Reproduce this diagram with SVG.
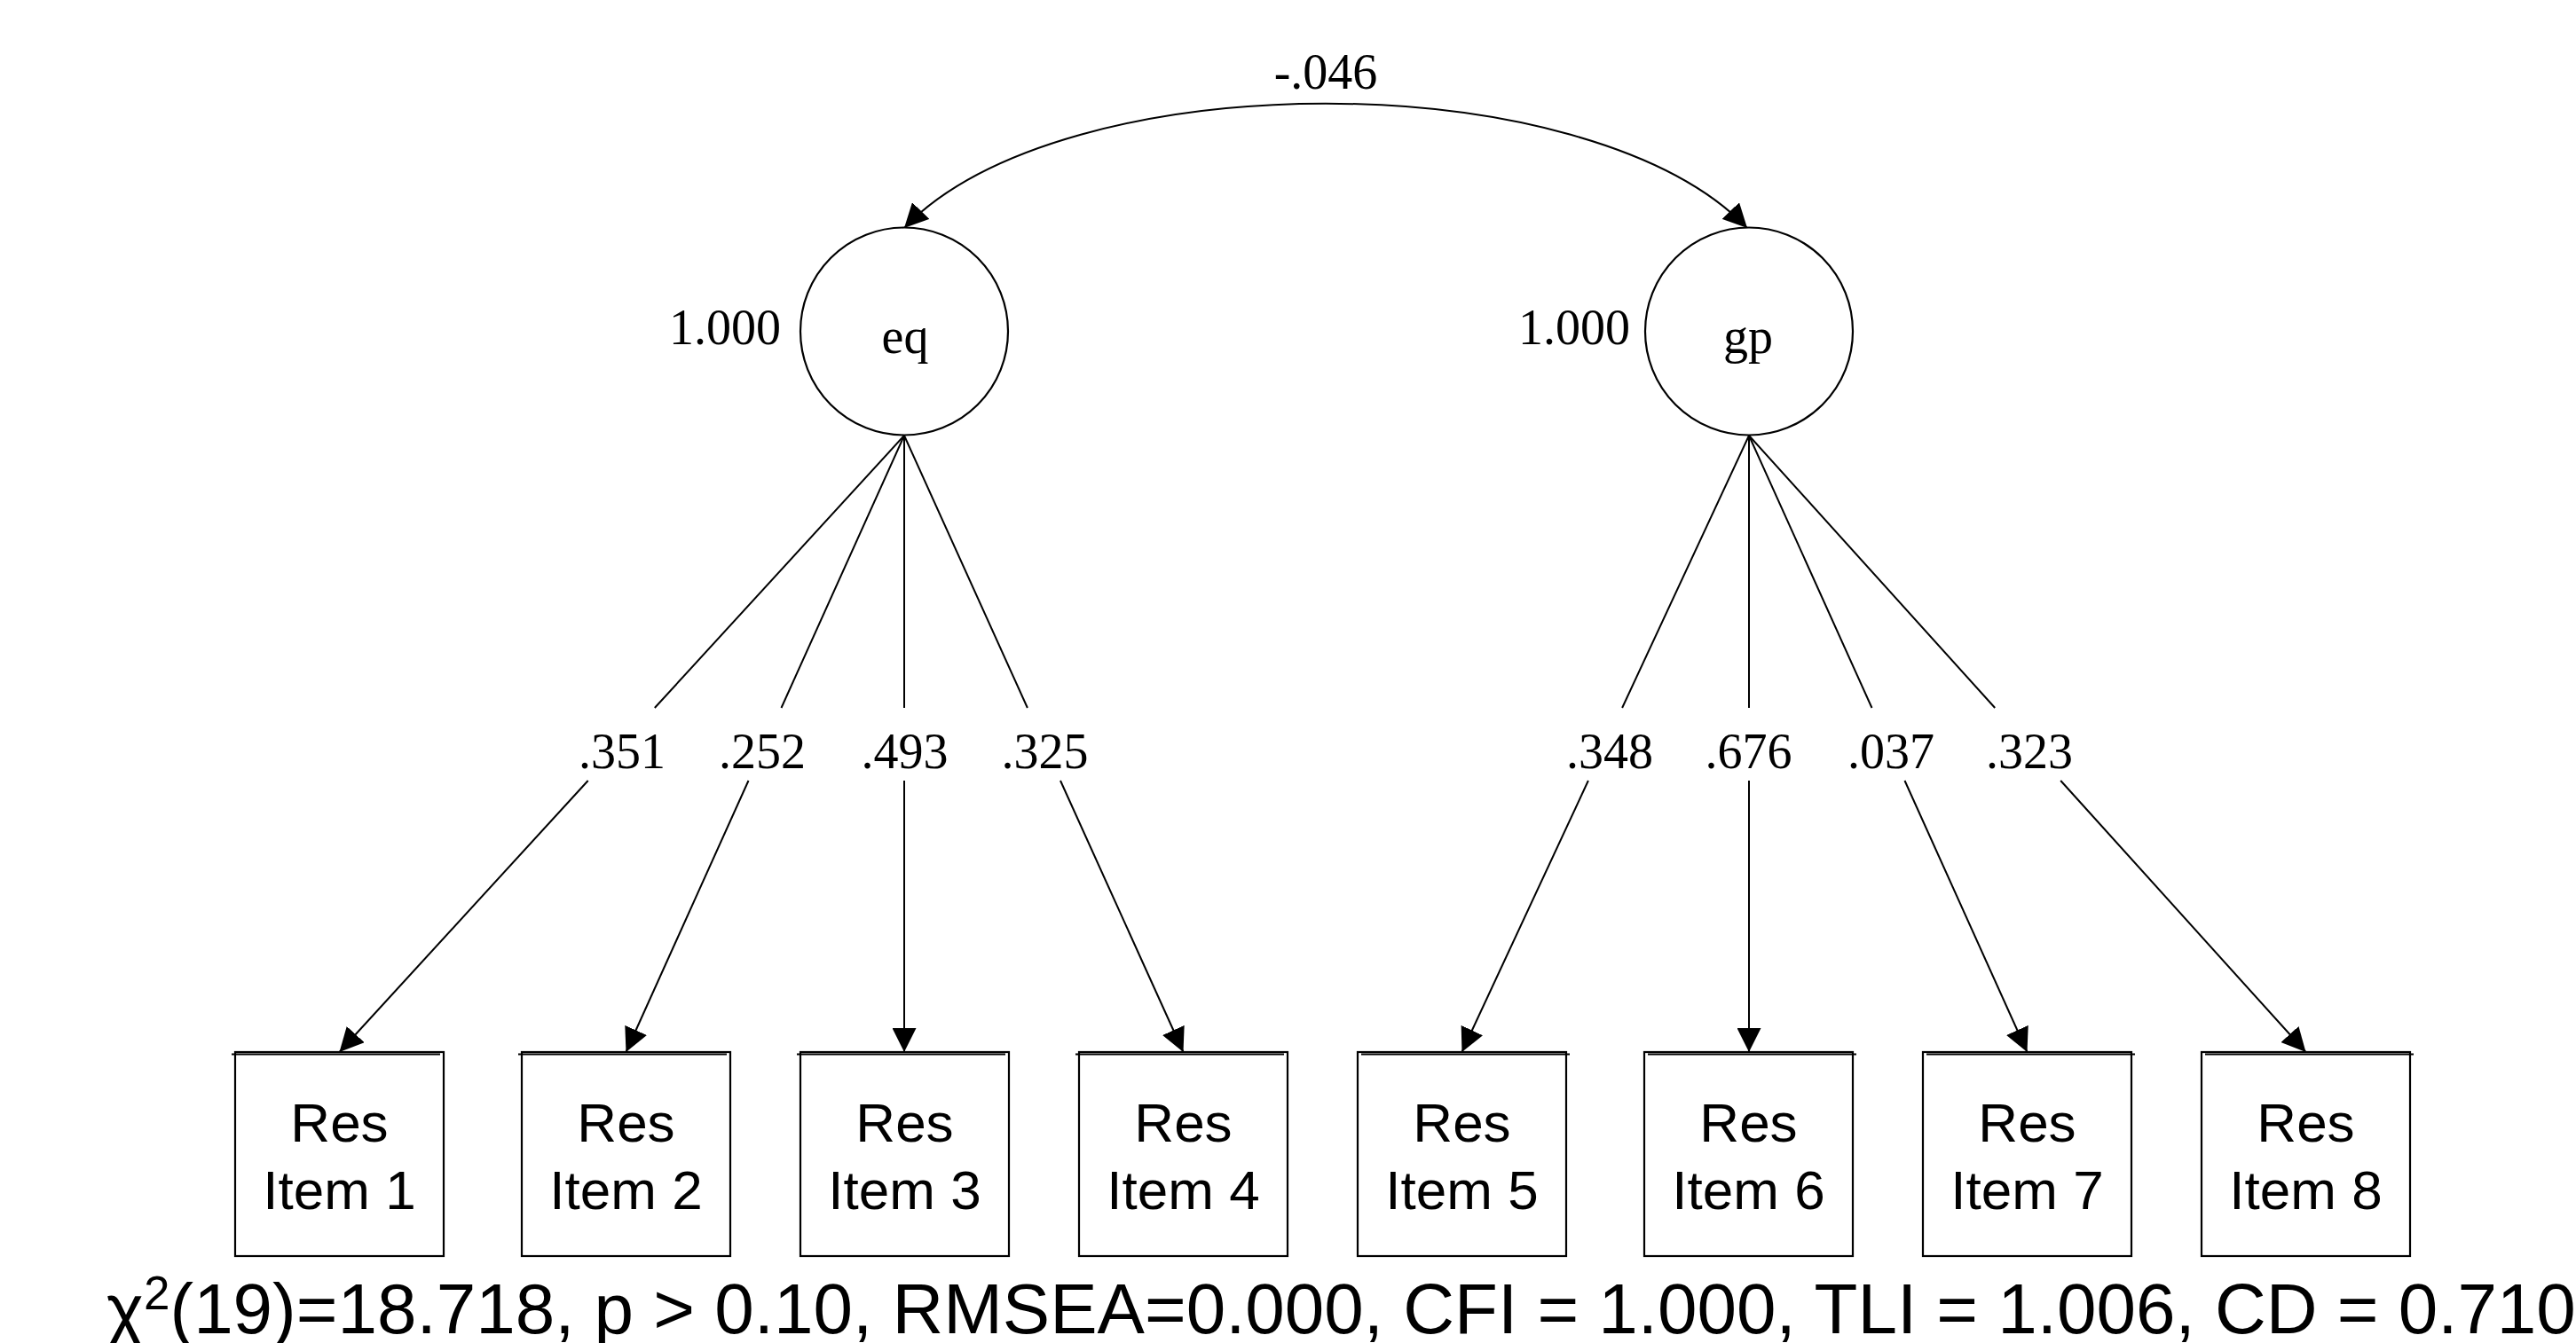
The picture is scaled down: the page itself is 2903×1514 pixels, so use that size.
<svg xmlns="http://www.w3.org/2000/svg" width="2903" height="1514" viewBox="0 0 2903 1514">
<style>
.serif{font-family:"Liberation Serif","Times New Roman",serif;font-size:56px;fill:#000}
.sans{font-family:"Liberation Sans",Arial,sans-serif;fill:#000}
.bt{font-size:62px}
.box{fill:#fff;stroke:#000;stroke-width:2.2}
.topl{stroke:#000;stroke-width:2.2}
.lat{fill:#fff;stroke:#000;stroke-width:2.2}
.ln{stroke:#000;stroke-width:2;fill:none}
</style>
<defs>
<marker id="ah" viewBox="0 0 27 27" refX="27" refY="13.5" markerWidth="27" markerHeight="27" markerUnits="userSpaceOnUse" orient="auto-start-reverse">
<path d="M0,0 L27,13.5 L0,27 z" fill="#000"/>
</marker>
</defs>
<rect width="2903" height="1514" fill="#fff"/>
<g id="connectors">
<path class="ln" d="M1019,257 C1199,70 1789,70 1969,257" marker-start="url(#ah)" marker-end="url(#ah)"/>
<text class="serif" x="1494" y="100" text-anchor="middle">-.046</text>
<line class="ln" x1="1019" y1="491" x2="737.8" y2="798"/>
<line class="ln" x1="662.7" y1="880" x2="382.5" y2="1186" marker-end="url(#ah)"/>
<line class="ln" x1="1019" y1="491" x2="880.5" y2="798"/>
<line class="ln" x1="843.5" y1="880" x2="705.5" y2="1186" marker-end="url(#ah)"/>
<line class="ln" x1="1019" y1="491" x2="1019" y2="798"/>
<line class="ln" x1="1019" y1="880" x2="1019" y2="1186" marker-end="url(#ah)"/>
<line class="ln" x1="1019" y1="491" x2="1157.9" y2="798"/>
<line class="ln" x1="1195" y1="880" x2="1333.5" y2="1186" marker-end="url(#ah)"/>
<line class="ln" x1="1971" y1="491" x2="1828.1" y2="798"/>
<line class="ln" x1="1789.9" y1="880" x2="1647.5" y2="1186" marker-end="url(#ah)"/>
<line class="ln" x1="1971" y1="491" x2="1971" y2="798"/>
<line class="ln" x1="1971" y1="880" x2="1971" y2="1186" marker-end="url(#ah)"/>
<line class="ln" x1="1971" y1="491" x2="2109.5" y2="798"/>
<line class="ln" x1="2146.5" y1="880" x2="2284.5" y2="1186" marker-end="url(#ah)"/>
<line class="ln" x1="1971" y1="491" x2="2248.2" y2="798"/>
<line class="ln" x1="2322.2" y1="880" x2="2598.5" y2="1186" marker-end="url(#ah)"/>
<text class="serif" x="701" y="866" text-anchor="middle">.351</text>
<text class="serif" x="859" y="866" text-anchor="middle">.252</text>
<text class="serif" x="1019.5" y="866" text-anchor="middle">.493</text>
<text class="serif" x="1177.5" y="866" text-anchor="middle">.325</text>
<text class="serif" x="1814" y="866" text-anchor="middle">.348</text>
<text class="serif" x="1970.5" y="866" text-anchor="middle">.676</text>
<text class="serif" x="2131" y="866" text-anchor="middle">.037</text>
<text class="serif" x="2287" y="866" text-anchor="middle">.323</text>
</g>
<g id="eq">
<circle class="lat" cx="1019" cy="373.5" r="117"/>
<text class="serif" x="1020" y="398" text-anchor="middle">eq</text>
<text class="serif" x="880" y="388" text-anchor="end">1.000</text>
</g>
<g id="gp">
<circle class="lat" cx="1971" cy="373.5" r="117"/>
<text class="serif" x="1970" y="398" text-anchor="middle">gp</text>
<text class="serif" x="1837" y="388" text-anchor="end">1.000</text>
</g>
<g id="item1"><rect class="box" x="265" y="1186" width="235" height="230"/><line class="topl" x1="261" y1="1188.5" x2="496" y2="1188.5"/><text class="sans bt" x="382.5" y="1287" text-anchor="middle">Res</text><text class="sans bt" x="382.5" y="1363" text-anchor="middle">Item 1</text></g>
<g id="item2"><rect class="box" x="588" y="1186" width="235" height="230"/><line class="topl" x1="584" y1="1188.5" x2="819" y2="1188.5"/><text class="sans bt" x="705.5" y="1287" text-anchor="middle">Res</text><text class="sans bt" x="705.5" y="1363" text-anchor="middle">Item 2</text></g>
<g id="item3"><rect class="box" x="902" y="1186" width="235" height="230"/><line class="topl" x1="898" y1="1188.5" x2="1133" y2="1188.5"/><text class="sans bt" x="1019.5" y="1287" text-anchor="middle">Res</text><text class="sans bt" x="1019.5" y="1363" text-anchor="middle">Item 3</text></g>
<g id="item4"><rect class="box" x="1216" y="1186" width="235" height="230"/><line class="topl" x1="1212" y1="1188.5" x2="1447" y2="1188.5"/><text class="sans bt" x="1333.5" y="1287" text-anchor="middle">Res</text><text class="sans bt" x="1333.5" y="1363" text-anchor="middle">Item 4</text></g>
<g id="item5"><rect class="box" x="1530" y="1186" width="235" height="230"/><line class="topl" x1="1534" y1="1188.5" x2="1769" y2="1188.5"/><text class="sans bt" x="1647.5" y="1287" text-anchor="middle">Res</text><text class="sans bt" x="1647.5" y="1363" text-anchor="middle">Item 5</text></g>
<g id="item6"><rect class="box" x="1853" y="1186" width="235" height="230"/><line class="topl" x1="1857" y1="1188.5" x2="2092" y2="1188.5"/><text class="sans bt" x="1970.5" y="1287" text-anchor="middle">Res</text><text class="sans bt" x="1970.5" y="1363" text-anchor="middle">Item 6</text></g>
<g id="item7"><rect class="box" x="2167" y="1186" width="235" height="230"/><line class="topl" x1="2171" y1="1188.5" x2="2406" y2="1188.5"/><text class="sans bt" x="2284.5" y="1287" text-anchor="middle">Res</text><text class="sans bt" x="2284.5" y="1363" text-anchor="middle">Item 7</text></g>
<g id="item8"><rect class="box" x="2481" y="1186" width="235" height="230"/><line class="topl" x1="2485" y1="1188.5" x2="2720" y2="1188.5"/><text class="sans bt" x="2598.5" y="1287" text-anchor="middle">Res</text><text class="sans bt" x="2598.5" y="1363" text-anchor="middle">Item 8</text></g>
<g id="fit">
<text class="sans" font-size="80" x="120" y="1503">χ<tspan font-size="53" dy="-27">2</tspan><tspan dy="27">(19)=18.718, p &gt; 0.10, RMSEA=0.000, CFI = 1.000, TLI = 1.006, CD = 0.710</tspan></text>
</g>
</svg>
